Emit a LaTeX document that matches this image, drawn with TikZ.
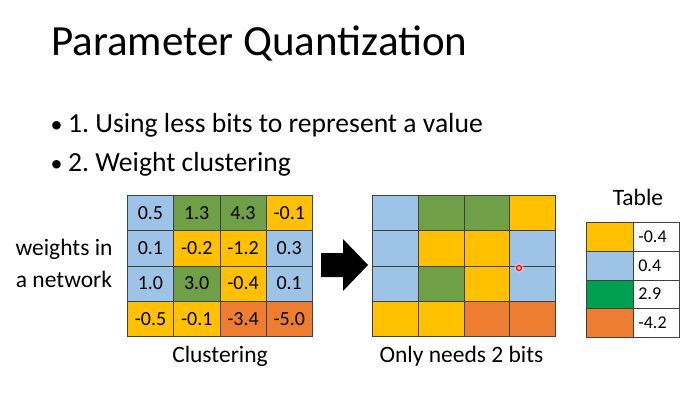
\documentclass[tikz,border=0pt]{standalone}
\usepackage{fontspec}
\setmainfont{Carlito}
\frenchspacing
\definecolor{cb}{HTML}{9DC3E6}
\definecolor{cg}{HTML}{6FA047}
\definecolor{cy}{HTML}{FFC000}
\definecolor{co}{HTML}{ED7D31}
\definecolor{tg}{HTML}{00A050}
\newcommand{\mybul}{\makebox[18pt][l]{\hspace{0.5pt}{\fontsize{24}{24}\selectfont •}}}
\begin{document}
\begin{tikzpicture}[x=1pt,y=-1pt,
  cell/.style={draw=black!75, line width=0.7pt, minimum width=46.25pt, minimum height=35.25pt, inner sep=0pt, anchor=north west, font=\fontsize{20}{20}\selectfont},
  rcell/.style={cell, minimum width=45.75pt},
  tcell/.style={draw=black!75, line width=0.7pt, minimum width=47pt, minimum height=28.75pt, inner sep=0pt, anchor=north west},
  tval/.style={draw=black!75, line width=0.7pt, minimum width=46pt, minimum height=28.75pt, inner sep=0pt, anchor=north west, font=\fontsize{18}{18}\selectfont, text width=36pt, align=left},
  lbl/.style={inner sep=0pt, font=\fontsize{23.5}{24}\selectfont}
]
\fill[white] (0,0) rectangle (698,403);
\useasboundingbox (0,0) rectangle (698,403);

\node[inner sep=0pt, anchor=base west, font=\fontsize{43}{43}\selectfont] (title) at (51,56) {Parameter Quantization};
\node[inner sep=0pt, anchor=base west, font=\fontsize{27.6}{27}\selectfont] (b1) at (50,133) {\mybul 1. Using less bits to represent a value};
\node[inner sep=0pt, anchor=base west, font=\fontsize{27.6}{27}\selectfont] (b2) at (50,172) {\mybul 2. Weight clustering};

% left grid
\foreach \c/\col/\val [count=\i from 0] in {1/cb/0.5,2/cg/1.3,3/cg/4.3,4/cy/-0.1}
  \node[cell, fill=\col] (L1\c) at (127+46.25*\i,195) {\val};
\foreach \c/\col/\val [count=\i from 0] in {1/cb/0.1,2/cy/-0.2,3/cy/-1.2,4/cb/0.3}
  \node[cell, fill=\col] (L2\c) at (127+46.25*\i,230.25) {\val};
\foreach \c/\col/\val [count=\i from 0] in {1/cb/1.0,2/cg/3.0,3/cy/-0.4,4/cb/0.1}
  \node[cell, fill=\col] (L3\c) at (127+46.25*\i,265.5) {\val};
\foreach \c/\col/\val [count=\i from 0] in {1/cy/-0.5,2/cy/-0.1,3/co/-3.4,4/co/-5.0}
  \node[cell, fill=\col] (L4\c) at (127+46.25*\i,300.75) {\val};

% right grid
\foreach \c/\col [count=\i from 0] in {1/cb,2/cg,3/cg,4/cy}
  \node[rcell, fill=\col] (R1\c) at (372+45.75*\i,195) {};
\foreach \c/\col [count=\i from 0] in {1/cb,2/cy,3/cy,4/cb}
  \node[rcell, fill=\col] (R2\c) at (372+45.75*\i,230.25) {};
\foreach \c/\col [count=\i from 0] in {1/cb,2/cg,3/cy,4/cb}
  \node[rcell, fill=\col] (R3\c) at (372+45.75*\i,265.5) {};
\foreach \c/\col [count=\i from 0] in {1/cy,2/cy,3/co,4/co}
  \node[rcell, fill=\col] (R4\c) at (372+45.75*\i,300.75) {};

% arrow
\fill[black] (321,253) -- (343,253) -- (343,239) -- (368,265) -- (343,291) -- (343,277) -- (321,277) -- cycle;

% table
\node[lbl, anchor=base] (tabletitle) at (638,206) {Table};
\foreach \col/\val [count=\i from 0] in {cy/-0.4,cb/0.4,tg/2.9,co/-4.2}{
  \node[tcell, fill=\col] (T\i a) at (586,222+28.75*\i) {};
  \node[tval] (T\i b) at (633,222+28.75*\i) {\val};
}

% labels
\node[lbl, anchor=base] (wlab1) at (64,255) {weights in};
\node[lbl, anchor=base] (wlab2) at (64,287) {a network};
\node[lbl, anchor=base] (clab) at (220,362) {Clustering};
\node[lbl, anchor=base] (olab) at (461.5,362) {Only needs 2 bits};

% pointer dot
\fill[red!25, opacity=0.6] (519,268) circle (5);
\draw[red, line width=1.2pt, fill=pink] (519,268) circle (2.5);
\end{tikzpicture}
\end{document}
